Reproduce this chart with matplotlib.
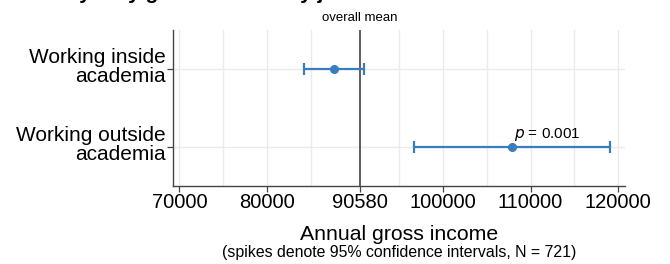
import numpy as np
import matplotlib
matplotlib.use("Agg")
import matplotlib.pyplot as plt

plt.rcParams['font.family'] = ['Liberation Sans', 'DejaVu Sans']

# data
groups = ['Working inside\nacademia', 'Working outside\nacademia']
means = [87580, 107860]
ci_low = [84240, 96730]
ci_high = [91000, 119050]
overall_mean = 90580
p_value = '= 0.001'
xticks = [70000, 80000, 90580, 100000, 110000, 120000]
minor_grid = [75000, 85000, 95000, 105000, 115000]

blue = '#3a7dbf'
W, H = 670, 264
PX = 0.72  # points per pixel at dpi 100
fig = plt.figure(figsize=(W / 100, H / 100), dpi=100)
ax = fig.add_axes([173 / W, 1 - 186 / H, (625 - 173) / W, (186 - 30) / H])

ypos = np.arange(1, len(groups) + 1)
means = np.array(means)
err = np.vstack([means - np.array(ci_low), np.array(ci_high) - means])

for x in xticks + minor_grid:
    if x != overall_mean:
        ax.axvline(x, color='#ebebeb', lw=1.0, zorder=0)
for y in ypos:
    ax.axhline(y, color='#ebebeb', lw=1.0, zorder=0)
ax.axvline(overall_mean, color='#444444', lw=1.2, zorder=1)

ax.errorbar(means, ypos, xerr=err, fmt='o', color=blue, ms=5.5,
            elinewidth=1.6, capsize=4, capthick=1.6, zorder=3)

ax.text(ci_low[1] + 11400, 2 - 0.12, r'$\it{p}$ ' + p_value, fontsize=11,
        ha='left', va='baseline')

ax.set_xlim(69280, 120760)
ax.set_ylim(2.5, 0.5)
ax.set_xticks(xticks)
ax.set_xticklabels([str(x) for x in xticks], fontsize=14.5)
ax.set_yticks(ypos)
ax.set_yticklabels([])
ax.tick_params(axis='both', length=4, width=0.9, color='#444444', pad=2)
ax.tick_params(axis='x', pad=1)

# group labels, right aligned, two lines around each tick
for y, lab in zip(ypos, groups):
    top, bottom = lab.split('\n')
    for line, dy in [(top, 6), (bottom, -13)]:
        ax.annotate(line, xy=(0, y), xycoords=('axes fraction', 'data'),
                    xytext=(-7 * PX, dy * PX), textcoords='offset points',
                    ha='right', va='baseline', fontsize=15)

for s in ['top', 'right']:
    ax.spines[s].set_visible(False)
for s in ['left', 'bottom']:
    ax.spines[s].set_color('#444444')
    ax.spines[s].set_linewidth(1.0)

ax.text(overall_mean, 1.04, 'overall mean', transform=ax.get_xaxis_transform(),
        ha='center', va='bottom', fontsize=9.5)

fig.text(399 / W, 1 - 234 / H, 'Annual gross income', ha='center', va='center',
         fontsize=15.3)
fig.text(399 / W, 1 - 252 / H, '(spikes denote 95% confidence intervals, N = 721)',
         ha='center', va='center', fontsize=11.4)

# title, cut off at the top edge like in the reference
fig.text(20 / W, 1.0 + 1 / H, 'Mean yearly gross income by job', ha='left',
         va='baseline', fontsize=15, fontweight='bold')

fig.savefig('out.png', dpi=100)
plt.close(fig)
